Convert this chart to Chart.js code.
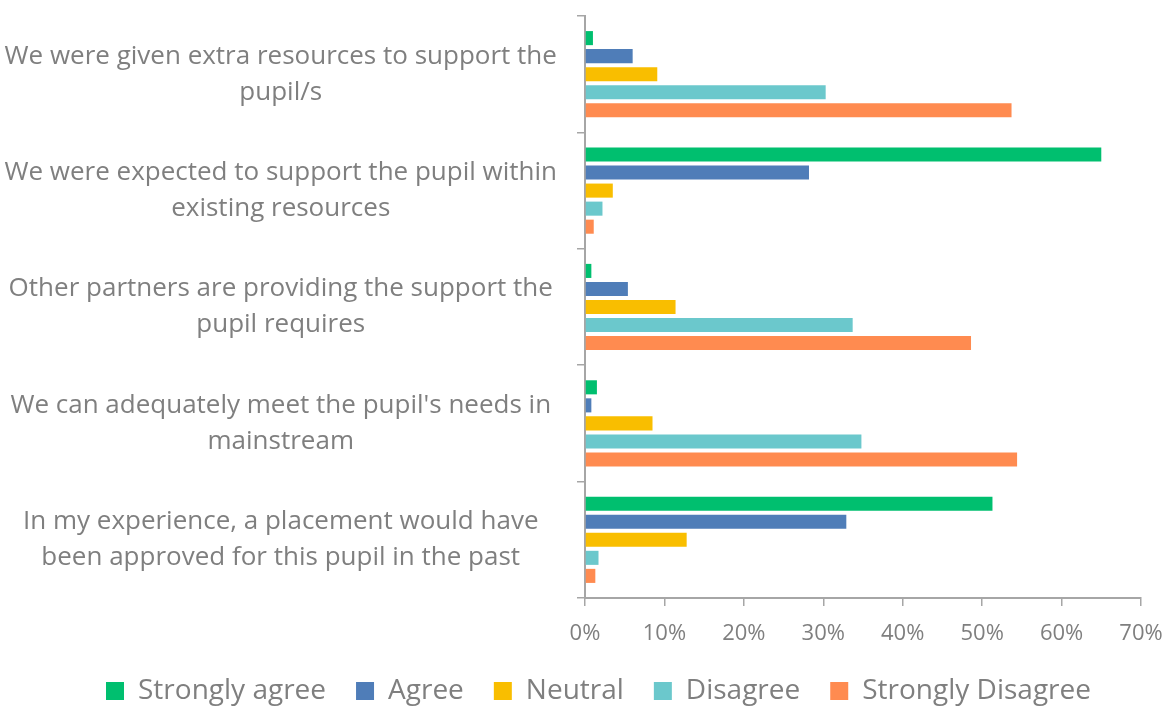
<!DOCTYPE html>
<html lang="en">
<head>
  <meta charset="UTF-8">
  <title>Pupil support</title>
  <script src="https://cdn.jsdelivr.net/npm/chart.js"></script>
  <style>
    html, body { margin: 0; padding: 0; background: #fff; }
    #wrap { width: 1167px; height: 707px; }
  </style>
</head>
<body>
  <div id="wrap">
    <canvas id="supportChart"></canvas>
  </div>

  <script>
    // statements (two lines each on the axis)
    const statements = [
      ['We were given extra resources to support the', 'pupil/s'],
      ['We were expected to support the pupil within', 'existing resources'],
      ['Other partners are providing the support the', 'pupil requires'],
      ["We can adequately meet the pupil's needs in", 'mainstream'],
      ['In my experience, a placement would have', 'been approved for this pupil in the past']
    ];

    // % of responses per statement
    const stronglyAgree    = [1.0, 65.0, 0.8, 1.5, 51.3];
    const agree            = [6.0, 28.2, 5.4, 0.8, 32.9];
    const neutral          = [9.1, 3.5, 11.4, 8.5, 12.8];
    const disagree         = [30.3, 2.2, 33.7, 34.8, 1.7];
    const stronglyDisagree = [53.7, 1.1, 48.6, 54.4, 1.3];

    const xTicks = [0, 10, 20, 30, 40, 50, 60, 70];

    const grey = '#7f7f7f';
    const lineGrey = '#a6a6a6';
    const font = 'Open Sans';

    function series(label, data, color) {
      return {
        label: label,
        data: data,
        backgroundColor: color,
        borderWidth: 0,
        categoryPercentage: 0.775,
        barPercentage: 0.78
      };
    }

    // legend sits a little right of the canvas centre
    const legendShift = {
      id: 'legendShift',
      afterLayout(chart) {
        chart.legend.left += 28;
        chart.legend.right += 28;
      }
    };

    const ctx = document.getElementById('supportChart').getContext('2d');
    const chart = new Chart(ctx, {
      type: 'bar',
      data: {
        labels: statements,
        datasets: [
          series('Strongly agree', stronglyAgree, '#00bf6f'),
          series('Agree', agree, '#4f7db8'),
          series('Neutral', neutral, '#f9be00'),
          series('Disagree', disagree, '#6bc8cc'),
          series('Strongly Disagree', stronglyDisagree, '#ff8b50')
        ]
      },
      plugins: [legendShift],
      options: {
        indexAxis: 'y',
        responsive: true,
        maintainAspectRatio: false,
        animation: false,
        layout: { padding: { top: 16, right: 26, bottom: -8, left: 0 } },
        plugins: {
          tooltip: { enabled: false },
          legend: {
            position: 'bottom',
            labels: {
              color: grey,
              font: { family: font, size: 28 },
              boxWidth: 18,
              boxHeight: 18,
              padding: 30
            }
          }
        },
        scales: {
          x: {
            min: 0,
            max: 70,
            afterBuildTicks: (s) => { s.ticks = xTicks.map(v => ({ value: v })); },
            afterFit: (s) => {
              s.height = 49;
              s.paddingLeft = 0;
              s.paddingRight = 0;
            },
            ticks: {
              color: grey,
              font: { family: font, size: 22 },
              padding: 15,
              callback: (v) => v + '%'
            },
            grid: {
              drawOnChartArea: false,
              drawTicks: true,
              tickLength: 8,
              color: lineGrey,
              lineWidth: 1.5
            },
            border: { color: lineGrey, width: 2 }
          },
          y: {
            afterFit: (s) => {
              s.width = 585;
              s.paddingTop = 0;
              s.paddingBottom = 0;
            },
            ticks: {
              color: grey,
              font: { family: font, size: 26, lineHeight: 1.385 },
              crossAlign: 'center',
              padding: 20
            },
            grid: {
              offset: true,
              drawOnChartArea: false,
              drawTicks: true,
              tickLength: 8,
              color: lineGrey,
              lineWidth: 1.5
            },
            border: { color: lineGrey, width: 2 }
          }
        }
      }
    });
  </script>
</body>
</html>
